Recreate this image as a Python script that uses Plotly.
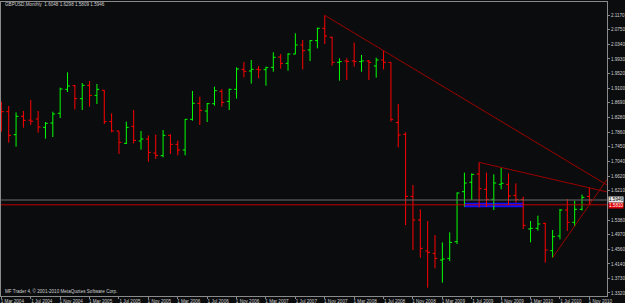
import plotly.graph_objects as go
import pandas as pd

# ---- data (GBPUSD monthly, Mar 2004 .. Nov 2010) ----
months = [d.strftime("%b %Y") for d in pd.date_range("2004-03-01", periods=81, freq="MS")]

open_ = [1.8459, 1.8440, 1.7791, 1.8309, 1.8200, 1.8233, 1.7998, 1.8120, 1.8393, 1.9071,
         1.9174, 1.8807, 1.9184, 1.8901, 1.9043, 1.8158, 1.7894, 1.7546, 1.8026, 1.7612,
         1.7668, 1.7273, 1.7198, 1.7772, 1.7518, 1.7358, 1.8224, 1.8676, 1.8459, 1.8666,
         1.9014, 1.8732, 1.9071, 1.9636, 1.9589, 1.9636, 1.9626, 1.9692, 1.9984, 1.9805,
         2.0069, 2.0323, 2.0182, 2.0446, 2.0794, 2.0540, 1.9834, 1.9871, 1.9872, 1.9853,
         1.9872, 1.9730, 1.9900, 1.9834, 1.8130, 1.7801, 1.6049, 1.5381, 1.4506, 1.4440,
         1.4251, 1.4298, 1.4769, 1.6181, 1.6445, 1.6680, 1.6247, 1.5965, 1.6388, 1.6388,
         1.6077, 1.5965, 1.5127, 1.5146, 1.5287, 1.4515, 1.4929, 1.5663, 1.5315, 1.5682,
         1.6048]
high = [1.8723, 1.8600, 1.8421, 1.8459, 1.8770, 1.8459, 1.8148, 1.8440, 1.9118, 1.9551,
        1.9193, 1.9250, 1.9306, 1.9221, 1.9052, 1.8393, 1.7894, 1.8158, 1.8487, 1.7894,
        1.7772, 1.7791, 1.7922, 1.7800, 1.7621, 1.8233, 1.9024, 1.8864, 1.8685, 1.9146,
        1.9071, 1.9090, 1.9692, 1.9843, 1.9899, 1.9730, 1.9711, 2.0116, 2.0069, 2.0087,
        2.0653, 2.0464, 2.0464, 2.0813, 2.1161, 2.0559, 1.9947, 1.9947, 2.0389, 2.0041,
        1.9900, 1.9966, 2.0163, 1.9834, 1.8657, 1.7857, 1.6369, 1.5682, 1.5353, 1.4957,
        1.4750, 1.5033, 1.6162, 1.6718, 1.6699, 1.7009, 1.6718, 1.6671, 1.6859, 1.6699,
        1.6416, 1.6040, 1.5353, 1.5503, 1.5306, 1.5099, 1.5692, 1.5974, 1.5927, 1.6100,
        1.6298]
low = [1.7876, 1.7565, 1.7452, 1.7988, 1.8064, 1.7847, 1.7678, 1.7725, 1.8261, 1.8996,
       1.8506, 1.8487, 1.8581, 1.8657, 1.8092, 1.7857, 1.7245, 1.7527, 1.7546, 1.7367,
       1.7028, 1.7104, 1.7151, 1.7245, 1.7207, 1.7207, 1.8186, 1.8064, 1.8148, 1.8610,
       1.8581, 1.8487, 1.8807, 1.9410, 1.9231, 1.9382, 1.9174, 1.9570, 1.9654, 1.9598,
       2.0060, 1.9636, 1.9871, 2.0229, 2.0352, 1.9740, 1.9316, 1.9335, 1.9711, 1.9570,
       1.9335, 1.9401, 1.9636, 1.8158, 1.7433, 1.5240, 1.4534, 1.4317, 1.3470, 1.4016,
       1.3611, 1.4223, 1.4703, 1.5757, 1.5946, 1.5739, 1.5757, 1.5663, 1.6247, 1.5804,
       1.5870, 1.5127, 1.4750, 1.5080, 1.4176, 1.4317, 1.4835, 1.5071, 1.5193, 1.5650,
       1.5809]
close = [1.8440, 1.7772, 1.8309, 1.8195, 1.8170, 1.8007, 1.8111, 1.8374, 1.9080, 1.9165,
         1.8807, 1.9184, 1.8901, 1.9071, 1.8158, 1.7894, 1.7574, 1.7998, 1.7631, 1.7668,
         1.7292, 1.7207, 1.7772, 1.7518, 1.7358, 1.8224, 1.8676, 1.8478, 1.8666, 1.9033,
         1.8704, 1.9071, 1.9645, 1.9579, 1.9636, 1.9620, 1.9683, 1.9975, 1.9805, 2.0069,
         2.0323, 2.0163, 2.0446, 2.0794, 2.0577, 1.9834, 1.9853, 1.9860, 1.9853, 1.9872,
         1.9834, 1.9900, 1.9834, 1.8224, 1.7782, 1.6049, 1.5381, 1.4581, 1.4468, 1.4298,
         1.4280, 1.4750, 1.6143, 1.6426, 1.6670, 1.6266, 1.5965, 1.6426, 1.6416, 1.6059,
         1.5965, 1.5230, 1.5146, 1.5268, 1.4534, 1.4910, 1.5663, 1.5315, 1.5682, 1.6020,
         1.5946]

price_ticks = [2.1170, 2.0750, 2.0340, 1.9930, 1.9520, 1.9100, 1.8690, 1.8280, 1.7860,
               1.7450, 1.7040, 1.6620, 1.6210, 1.5380, 1.4970, 1.4560, 1.4140, 1.3730, 1.3320]
time_tick_labels = ["1 Mar 2004", "1 Jul 2004", "1 Nov 2004", "1 Mar 2005", "1 Jul 2005",
                    "1 Nov 2005", "1 Mar 2006", "1 Jul 2006", "1 Nov 2006", "1 Mar 2007",
                    "1 Jul 2007", "1 Nov 2007", "1 Mar 2008", "1 Jul 2008", "1 Nov 2008",
                    "1 Mar 2009", "1 Jul 2009", "1 Nov 2009", "1 Mar 2010", "1 Jul 2010",
                    "1 Nov 2010"]

# drawing objects (month index, price)
trend_a = [(44, 2.1161), (80, 1.6670)]   # from Nov 2007 high
trend_b = [(65, 1.7009), (80, 1.6290)]   # from Aug 2009 high
trend_c = [(75, 1.4317), (80, 1.5809)]   # from Jun 2010 low
rect_box = [(63, 1.5740), (71, 1.5870)]
bid_price = 1.5946
red_line_price = 1.5810

x = list(range(len(months)))
BG = "#0b0c0e"
FONT = "Liberation Sans"
TXT = "#cfcfcf"
FS = 4.6

fig = go.Figure()
fig.add_trace(go.Ohlc(
    x=x, open=open_, high=high, low=low, close=close,
    increasing=dict(line=dict(color="#00ff00", width=1)),
    decreasing=dict(line=dict(color="#ff0000", width=1)),
    tickwidth=0.32, hovertext=months, hoverinfo="text"))

def ray(pts, xend=95):
    (x0, y0), (x1, y1) = pts
    s = (y1 - y0) / (x1 - x0)
    return dict(type="line", xref="x", yref="y", x0=x0, y0=y0, x1=xend,
                y1=y0 + s * (xend - x0), line=dict(color="#9a0000", width=1))

shapes = [
    dict(type="rect", xref="x", yref="y", x0=rect_box[0][0], x1=rect_box[1][0],
         y0=rect_box[0][1], y1=rect_box[1][1], fillcolor="#0a10ff",
         line=dict(width=0), layer="below"),
    dict(type="line", xref="paper", yref="y", x0=0, x1=1, y0=bid_price, y1=bid_price,
         line=dict(color="#6e6e6e", width=1)),
    dict(type="line", xref="paper", yref="y", x0=0, x1=1, y0=red_line_price,
         y1=red_line_price, line=dict(color="#c00000", width=1)),
    ray(trend_a), ray(trend_b), ray(trend_c),
]

annotations = [
    dict(xref="paper", yref="paper", x=0.004, y=0.99, xanchor="left", yanchor="middle",
         text="GBPUSD,Monthly  %.4f %.4f %.4f %.4f" % (open_[-1], high[-1], low[-1], close[-1]),
         showarrow=False, font=dict(family=FONT, size=FS, color=TXT)),
    dict(xref="paper", yref="paper", x=0.004, y=0.017, xanchor="left", yanchor="middle",
         text="MF Trader 4, \u00a9 2001-2010 MetaQuotes Software Corp.",
         showarrow=False, font=dict(family=FONT, size=FS, color=TXT)),
    dict(xref="paper", yref="y", x=1, y=red_line_price, xanchor="left", yanchor="middle",
         xshift=1, yshift=-1, text="%.4f" % red_line_price, showarrow=False, bgcolor="#e00000",
         borderpad=0, font=dict(family=FONT, size=FS, color="#ffffff")),
    dict(xref="paper", yref="y", x=1, y=bid_price, xanchor="left", yanchor="middle",
         xshift=1, text="%.4f" % bid_price, showarrow=False, bgcolor="#e6e6e6",
         borderpad=0, font=dict(family=FONT, size=FS, color="#000000")),
]

fig.update_layout(
    width=625, height=303,
    margin=dict(l=1, r=18, t=2, b=7, autoexpand=False),
    paper_bgcolor=BG, plot_bgcolor=BG,
    showlegend=False,
    shapes=shapes, annotations=annotations,
    font=dict(family=FONT, size=FS, color=TXT),
    xaxis=dict(range=[-0.05, 82.4], rangeslider=dict(visible=False),
               tickvals=list(range(0, 81, 4)), ticktext=time_tick_labels,
               ticks="outside", ticklen=2, tickcolor="#8a8a8a",
               showline=True, linecolor="#8a8a8a", linewidth=1, mirror=True,
               showgrid=False, zeroline=False, ticklabelshift=11,
               ticklabelstandoff=-2, automargin=False,
               tickfont=dict(family=FONT, size=FS, color=TXT)),
    yaxis=dict(range=[1.3235, 2.1537], side="right",
               tickvals=price_ticks, ticktext=["%.4f" % v for v in price_ticks],
               ticks="outside", ticklen=2, tickcolor="#8a8a8a",
               showline=True, linecolor="#8a8a8a", linewidth=1, mirror=True,
               showgrid=False, zeroline=False, automargin=False,
               ticklabelstandoff=0,
               tickfont=dict(family=FONT, size=FS, color=TXT)),
)

fig.write_html("out.html")
